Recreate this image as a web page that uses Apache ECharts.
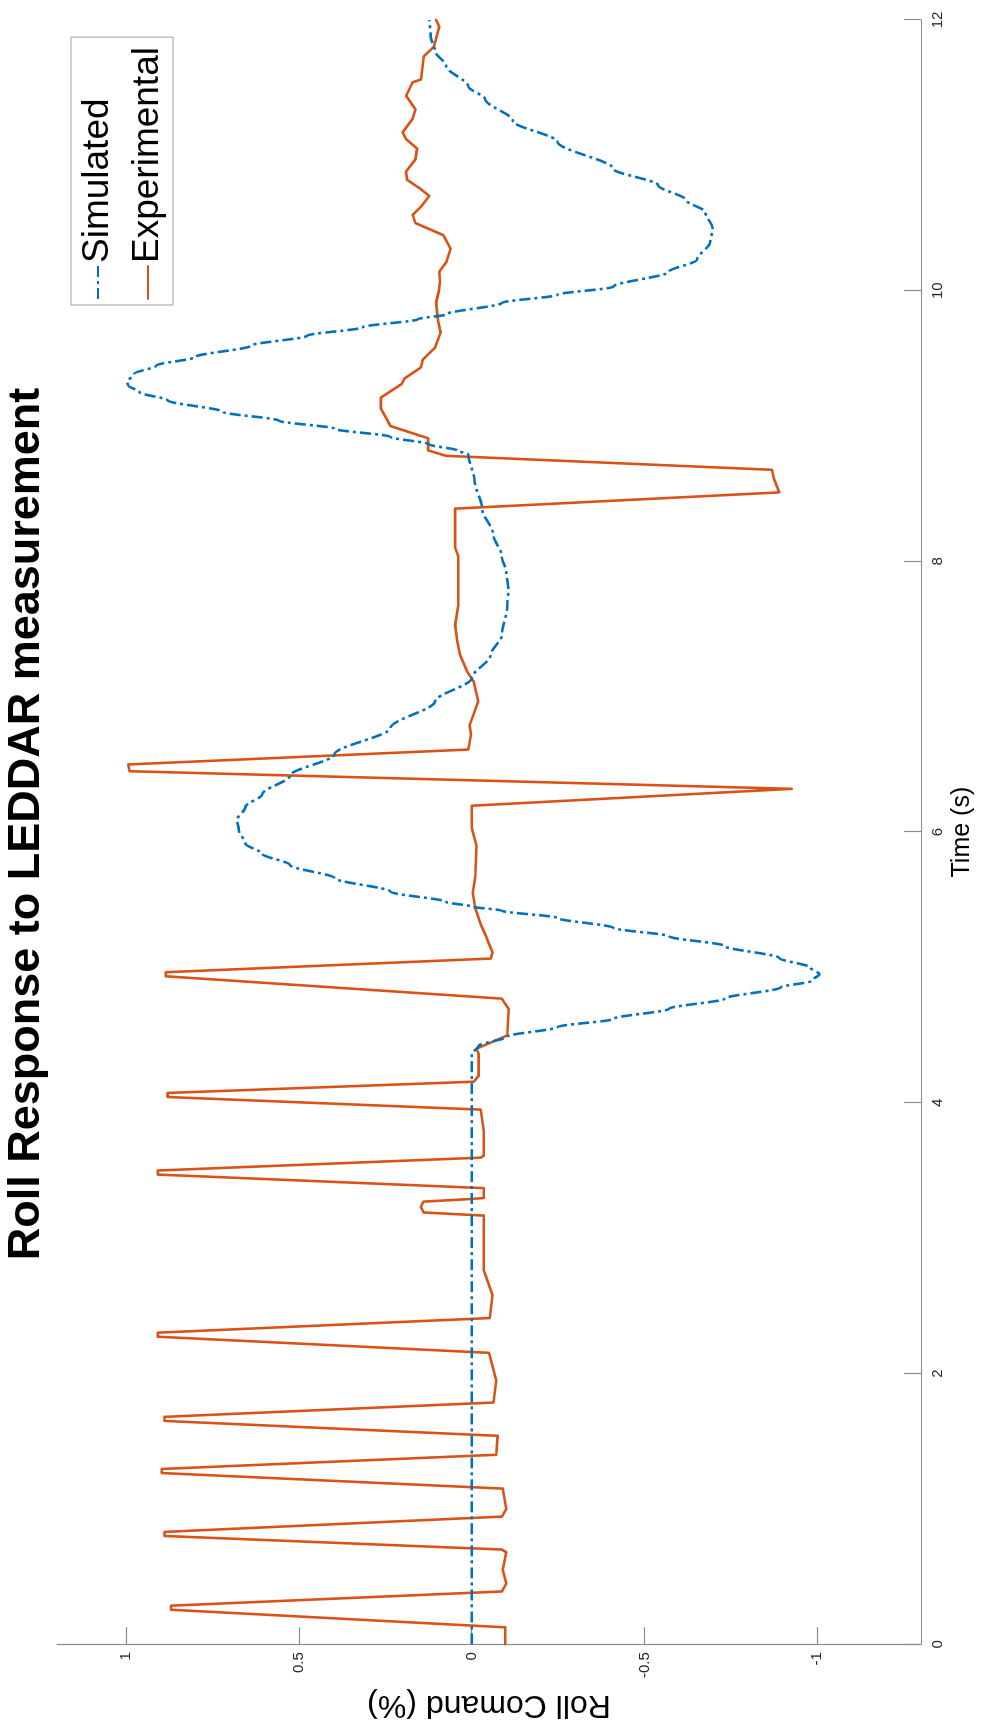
<!DOCTYPE html>
<html>
<head>
<meta charset="utf-8">
<title>Roll Response to LEDDAR measurement</title>
<script src="https://cdn.jsdelivr.net/npm/echarts@6/dist/echarts.min.js"></script>
<style>
  html, body { margin: 0; padding: 0; background: #ffffff; overflow: hidden; }
  /* The figure is laid out in landscape and turned a quarter turn counter-clockwise */
  #chart {
    position: absolute; left: 0; top: 0;
    width: 1729px; height: 983px;
    transform-origin: 0 0;
    transform: translate(0, 1729px) rotate(-90deg);
  }
</style>
</head>
<body>
<div id="chart"></div>
<script>
// Simulated roll command (dash-dot)
const simTime = [
  0, 4.36, 4.42, 4.49, 4.56, 4.62, 4.695, 4.77, 4.853, 4.90,
  4.95, 5.0, 5.07, 5.16, 5.23, 5.293, 5.366, 5.42, 5.45, 5.484,
  5.56, 5.66, 5.757, 5.84, 5.915, 6.015, 6.09, 6.186, 6.28, 6.417,
  6.575, 6.77, 6.966, 7.137, 7.31, 7.455, 7.675, 7.8, 7.92, 8.04,
  8.2, 8.39, 8.6, 8.79, 8.82, 8.865, 8.92, 8.98, 9.04, 9.105,
  9.19, 9.25, 9.30, 9.325, 9.385, 9.447, 9.51, 9.594, 9.667, 9.73,
  9.79, 9.825, 9.91, 9.97, 10.03, 10.14, 10.23, 10.36, 10.46, 10.58,
  10.67, 10.78, 10.9, 11.1, 11.255, 11.415, 11.51, 11.66, 11.77, 11.88,
  12.0
];
const simRoll = [
  0, 0, -0.02, -0.103, -0.248, -0.41, -0.571, -0.732, -0.894, -0.982,
  -1.006, -0.98, -0.89, -0.73, -0.571, -0.41, -0.248, -0.087, 0, 0.074,
  0.235, 0.397, 0.526, 0.606, 0.655, 0.674, 0.679, 0.655, 0.606, 0.526,
  0.397, 0.235, 0.106, 0, -0.055, -0.087, -0.103, -0.106, -0.1, -0.087,
  -0.062, -0.03, -0.008, 0.01, 0.042, 0.123, 0.235, 0.397, 0.558, 0.72,
  0.88, 0.961, 0.994, 0.997, 0.977, 0.913, 0.8, 0.639, 0.477, 0.316,
  0.155, 0.074, -0.087, -0.248, -0.41, -0.571, -0.652, -0.69, -0.697, -0.676,
  -0.62, -0.539, -0.41, -0.248, -0.119, -0.039, 0.01, 0.074, 0.106, 0.119,
  0.123
];

// Measured roll command (solid)
const expTime = [
  0, 0.125, 0.255, 0.285, 0.39, 0.45, 0.55, 0.68, 0.70, 0.80,
  0.83, 0.943, 1.0, 1.15, 1.265, 1.295, 1.40, 1.54, 1.65, 1.68,
  1.786, 1.95, 2.153, 2.272, 2.302, 2.41, 2.58, 2.764, 3.167, 3.19,
  3.23, 3.27, 3.29, 3.297, 3.37, 3.47, 3.50, 3.595, 3.61, 3.79,
  3.95, 4.043, 4.073, 4.156, 4.20, 4.364, 4.40, 4.498, 4.694, 4.77,
  4.935, 4.965, 5.066, 5.11, 5.24, 5.318, 5.44, 5.55, 5.67, 5.90,
  6.03, 6.11, 6.195, 6.32, 6.45, 6.50, 6.61, 6.72, 6.79, 6.966,
  7.11, 7.185, 7.31, 7.41, 7.53, 7.675, 8.04, 8.10, 8.39, 8.51,
  8.615, 8.677, 8.78, 8.82, 8.91, 9.0, 9.13, 9.21, 9.31, 9.35,
  9.434, 9.49, 9.58, 9.69, 9.79, 9.91, 10.0, 10.07, 10.14, 10.21,
  10.31, 10.41, 10.5, 10.56, 10.62, 10.70, 10.75, 10.82, 10.88, 10.97,
  11.05, 11.12, 11.17, 11.27, 11.34, 11.44, 11.54, 11.56, 11.73, 11.80,
  11.95, 12.0
];
const expRoll = [
  -0.097, -0.097, 0.87, 0.87, -0.087, -0.1, -0.09, -0.1, -0.087, 0.889,
  0.889, -0.087, -0.1, -0.09, 0.897, 0.897, -0.071, -0.075, 0.889, 0.889,
  -0.063, -0.071, -0.05, 0.908, 0.908, -0.052, -0.06, -0.035, -0.035, 0.139,
  0.147, 0.14, 0, -0.035, -0.035, 0.908, 0.908, -0.026, -0.035, -0.035,
  -0.026, 0.88, 0.88, -0.006, -0.02, -0.02, -0.014, -0.103, -0.107, -0.087,
  0.885, 0.885, -0.055, -0.06, -0.04, -0.026, -0.01, -0.003, -0.01, -0.014,
  0, 0, 0, -0.926, 0.99, 0.994, 0.01, 0.002, 0.006, -0.019,
  -0.006, 0.013, 0.034, 0.042, 0.048, 0.039, 0.039, 0.048, 0.048, -0.89,
  -0.874, -0.869, 0.074, 0.126, 0.126, 0.235, 0.263, 0.263, 0.203, 0.195,
  0.147, 0.142, 0.106, 0.09, 0.098, 0.103, 0.095, 0.092, 0.094, 0.074,
  0.061, 0.082, 0.163, 0.171, 0.147, 0.123, 0.147, 0.187, 0.19, 0.163,
  0.158, 0.19, 0.2, 0.171, 0.163, 0.19, 0.171, 0.147, 0.139, 0.11,
  0.094, 0.103
];

const timeTicks = [0, 2, 4, 6, 8, 10, 12];
const rollTicks = [-1, -0.5, 0, 0.5, 1];

const seriesNames = ['Simulated', 'Experimental'];
const titleText = 'Roll Response to LEDDAR measurement';
const timeLabel = 'Time (s)';
const rollLabel = 'Roll Comand (%)';

const FONT = '"Liberation Sans", Arial, Helvetica, sans-serif';
const AXIS_GREY = '#8c8c8c';
const BLUE = '#0072BD';
const ORANGE = '#D95319';

const zip = (xs, ys) => xs.map((x, i) => [x, ys[i]]);

const chart = echarts.init(document.getElementById('chart'), null, { renderer: 'canvas' });

chart.setOption({
  animation: false,
  backgroundColor: '#ffffff',
  textStyle: { fontFamily: FONT },
  grid: { left: 72, right: 20, top: 57, bottom: 62, containLabel: false },
  xAxis: {
    type: 'value',
    min: 0, max: 12, interval: 2,
    axisLine: { show: true, onZero: false, lineStyle: { color: AXIS_GREY, width: 1.2 } },
    axisTick: { show: true, inside: true, length: 17, lineStyle: { color: AXIS_GREY, width: 1.2 } },
    axisLabel: {
      color: '#262626', fontSize: 15, fontFamily: FONT, margin: 9,
      customValues: timeTicks
    },
    splitLine: { show: false },
    name: timeLabel,
    nameLocation: 'middle',
    nameGap: 27,
    nameTextStyle: { color: '#000000', fontSize: 25, fontFamily: FONT }
  },
  yAxis: {
    type: 'value',
    min: -1.3, max: 1.2,
    axisLine: { show: true, onZero: false, lineStyle: { color: AXIS_GREY, width: 1.2 } },
    axisTick: { show: true, inside: true, length: 17, lineStyle: { color: AXIS_GREY, width: 1.2 }, customValues: rollTicks },
    axisLabel: {
      color: '#262626', fontSize: 15, fontFamily: FONT, margin: 8,
      customValues: rollTicks
    },
    splitLine: { show: false },
    name: rollLabel,
    nameLocation: 'middle',
    nameRotate: 90,
    nameGap: 36,
    nameTextStyle: { color: '#000000', fontSize: 32, fontFamily: FONT }
  },
  legend: {
    data: seriesNames,
    orient: 'vertical',
    left: 1424,
    top: 71,
    padding: [7, 10, 5, 5],
    itemGap: 10,
    itemWidth: 33,
    itemHeight: 14,
    borderColor: '#a0a0a0',
    borderWidth: 1,
    backgroundColor: '#ffffff',
    itemStyle: { opacity: 0 },
    textStyle: { color: '#000000', fontSize: 37, fontFamily: FONT, lineHeight: 40, padding: [0, 0, 0, -2] }
  },
  graphic: [
    {
      type: 'text',
      style: {
        x: 905, y: 27,
        text: titleText,
        fill: '#000000',
        font: 'bold 45px ' + FONT,
        align: 'center',
        verticalAlign: 'middle'
      }
    }
  ],
  series: [
    {
      name: seriesNames[0],
      type: 'line',
      data: zip(simTime, simRoll),
      showSymbol: false,
      symbol: 'none',
      smooth: 0.3,
      smoothMonotone: 'x',
      z: 3,
      lineStyle: { color: BLUE, width: 2.6, type: [11, 4, 3, 4] },
      itemStyle: { color: BLUE }
    },
    {
      name: seriesNames[1],
      type: 'line',
      data: zip(expTime, expRoll),
      showSymbol: false,
      symbol: 'none',
      smooth: false,
      z: 2,
      lineStyle: { color: ORANGE, width: 2.6, join: 'round', cap: 'round' },
      itemStyle: { color: ORANGE }
    }
  ]
});
</script>
</body>
</html>
